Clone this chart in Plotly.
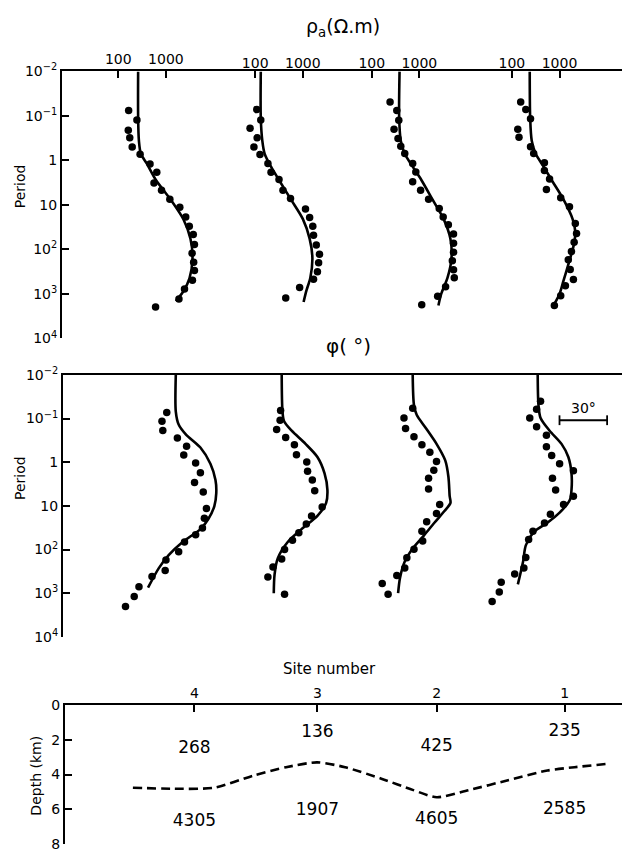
import plotly.graph_objects as go

# ---------------- DATA ----------------
# Sites are plotted left to right in the order 4, 3, 2, 1
site_labels = ["4", "3", "2", "1"]
site_dist_km = [0.0, 10.0, 19.7, 30.1]

# Apparent resistivity: observed (period s, rho ohm.m)
rho_obs_T_s4 = [0.076, 0.124, 0.21, 0.31, 0.50, 0.73, 1.2, 1.84, 3.2, 4.7, 7.5, 11.2, 18.6, 30, 46, 77, 121, 195, 297, 490, 775, 1290, 1960]
rho_obs_s4 = [165, 246, 162, 174, 196, 287, 464, 643, 562, 810, 1210, 1960, 2610, 3100, 3760, 3980, 3550, 3830, 3980, 3610, 2460, 1880, 607]
rho_obs_T_s3 = [0.072, 0.124, 0.19, 0.31, 0.50, 0.74, 1.17, 1.84, 2.7, 4.7, 7.2, 12.4, 19.2, 30, 48, 79, 128, 200, 316, 468, 713, 1225]
rho_obs_s3 = [108, 131, 78, 110, 94, 126, 185, 215, 316, 383, 552, 1140, 1390, 1620, 1680, 1920, 2240, 2150, 2030, 1680, 858, 438]
rho_obs_T_s2 = [0.049, 0.076, 0.126, 0.20, 0.32, 0.48, 0.70, 1.17, 1.81, 3.0, 4.7, 7.5, 12, 18.6, 28, 45, 73, 115, 179, 286, 430, 690, 1120, 1740]
rho_obs_s2 = [242, 335, 369, 293, 355, 406, 492, 722, 841, 722, 1060, 1560, 2610, 3160, 4060, 5210, 5210, 5210, 4920, 5210, 5410, 3550, 2420, 1120]
rho_obs_T_s1 = [0.049, 0.072, 0.116, 0.20, 0.30, 0.49, 0.70, 1.13, 1.69, 2.6, 4.5, 6.9, 11, 26, 44, 69, 111, 170, 282, 475, 656, 1100, 1810]
rho_obs_s1 = [153, 196, 246, 133, 141, 246, 287, 482, 482, 619, 531, 1060, 1620, 2150, 2280, 2030, 1780, 1530, 1680, 1960, 1330, 1060, 780]

# Apparent resistivity: model response
rho_mod_T_s4 = [0.01, 0.11, 0.36, 0.71, 1.18, 2.75, 7.6, 21, 58, 160, 440, 870, 1450]
rho_mod_s4 = [261, 261, 271, 298, 398, 617, 1259, 2330, 3290, 3620, 3140, 2330, 1620]
rho_mod_T_s3 = [0.01, 0.11, 0.36, 0.71, 1.38, 2.75, 7.5, 20.6, 57, 156, 430, 845, 1510]
rho_mod_s3 = [131, 131, 141, 158, 215, 316, 562, 1000, 1390, 1590, 1440, 1190, 1040]
rho_mod_T_s2 = [0.01, 0.11, 0.36, 0.71, 1.38, 2.75, 7.5, 20.6, 57, 156, 430, 1000, 1810]
rho_mod_s2 = [383, 376, 406, 492, 722, 1100, 1880, 3220, 4470, 4730, 3900, 2870, 2510]
rho_mod_T_s1 = [0.01, 0.11, 0.36, 0.71, 1.38, 2.75, 7.5, 20.6, 41, 79, 219, 510, 1000, 1810]
rho_mod_s1 = [237, 242, 261, 316, 464, 681, 1210, 1880, 2150, 1995, 1530, 1210, 1000, 750]

# Phase: observed (period s, degrees)
phi_obs_T_s4 = [0.073, 0.115, 0.187, 0.28, 0.43, 0.68, 1.04, 1.75, 2.9, 4.8, 11.4, 19.1, 32, 46, 67, 112, 173, 300, 416, 710, 1190, 2020]
phi_obs_s4 = [39.3, 36.3, 36.8, 46.0, 51.8, 50.0, 57.5, 60.5, 56.8, 62.3, 64.3, 63.0, 61.8, 57.5, 50.5, 46.8, 38.8, 38.3, 30.0, 21.8, 18.8, 13.3]
phi_obs_T_s3 = [0.065, 0.109, 0.177, 0.27, 0.40, 0.67, 0.99, 1.6, 2.55, 4.5, 10.6, 17, 26, 41, 61, 100, 164, 252, 423, 1050]
phi_obs_s3 = [44.3, 44.0, 41.8, 47.5, 53.0, 54.3, 60.8, 61.3, 64.3, 65.8, 70.5, 63.8, 60.5, 55.8, 51.8, 46.8, 45.0, 39.5, 36.3, 46.8]
phi_obs_T_s2 = [0.058, 0.097, 0.168, 0.26, 0.40, 0.59, 0.96, 1.52, 2.34, 4.1, 9.3, 15, 23, 38, 64, 98, 153, 266, 395, 597, 1050]
phi_obs_s2 = [45.0, 39.5, 40.5, 45.8, 50.8, 55.8, 60.0, 58.3, 55.0, 55.0, 62.0, 60.0, 53.8, 50.8, 51.3, 45.8, 41.3, 40.0, 35.0, 25.8, 29.5]
phi_obs_T_s1 = [0.040, 0.061, 0.097, 0.154, 0.24, 0.44, 0.70, 1.08, 1.57, 2.34, 4.3, 6.0, 9.3, 15.5, 24.7, 38, 59, 151, 266, 362, 557, 933, 1540]
phi_obs_s1 = [46.8, 44.3, 40.0, 44.3, 50.5, 50.5, 53.8, 58.8, 67.5, 54.3, 56.3, 67.5, 61.3, 53.0, 49.3, 42.0, 39.3, 37.5, 36.3, 30.5, 22.0, 20.8, 16.3]

# Phase: model response
phi_mod_T_s4 = [0.01, 0.069, 0.137, 0.23, 0.46, 1.08, 2.55, 5.1, 10.1, 20, 34, 67, 134, 266, 747]
phi_mod_s4 = [45, 45, 46.8, 51.3, 60.5, 66.8, 70, 70.5, 69.3, 65.5, 60.5, 49.3, 40.5, 34.3, 27.5]
phi_mod_T_s3 = [0.01, 0.069, 0.115, 0.19, 0.38, 0.76, 1.8, 4.3, 8.5, 17, 34, 67, 159, 375, 1000]
phi_mod_s3 = [45, 45.5, 46.5, 51.3, 60, 67.5, 72, 73.8, 73, 67.5, 57.5, 48.8, 42.5, 40.5, 40]
phi_mod_T_s2 = [0.01, 0.049, 0.082, 0.16, 0.38, 0.91, 2.15, 6.0, 8.5, 13.1, 24, 48, 95, 188, 446, 1000]
phi_mod_s2 = [45, 45.8, 47.5, 53, 60, 65.5, 67.5, 68.3, 68.8, 65, 58.8, 52, 45, 40, 37, 35.8]
phi_mod_T_s1 = [0.01, 0.049, 0.097, 0.19, 0.38, 0.76, 1.8, 4.3, 7.2, 14.3, 24, 40, 80, 188, 628]
phi_mod_s1 = [45, 45.5, 46.8, 52.5, 60, 64.3, 66.3, 66.3, 65.3, 58.8, 51.3, 42.5, 37.5, 35.8, 32.5]

# Two-layer model section
upper_rho = [268, 136, 425, 235]
lower_rho = [4305, 1907, 4605, 2585]
iface_dist_km = [-5.0, -1.9, 1.6, 4.85, 7.45, 9.97, 12.25, 15.2, 17.8, 19.7, 22.3, 25.5, 28.7, 30.9, 33.5]
iface_depth_km = [4.76, 4.82, 4.76, 4.05, 3.58, 3.30, 3.58, 4.24, 4.9, 5.31, 4.9, 4.33, 3.77, 3.58, 3.39]

period_ticks = [0.01, 0.1, 1, 10, 100, 1000, 10000]
period_ticktext = ["10<sup>−2</sup>", "10<sup>−1</sup>", "1", "10", "10<sup>2</sup>", "10<sup>3</sup>", "10<sup>4</sup>"]
rho_ticks = [100, 1000]
depth_ticks = [0, 2, 4, 6, 8]

# label depths for layer resistivities (layout)
label_depth_upper = [2.5, 1.6, 2.4, 1.55]
label_depth_lower = [6.7, 6.1, 6.6, 6.05]

# ---------------- LAYOUT GEOMETRY (pixels) ----------------
W, H = 622, 860
def fx(p):
    return p / W
def fy(p):
    return 1 - p / H

P1_TOP, P1_BOT = 62.7, 335.5
P2_TOP, P2_BOT = 372.7, 640.3
P3_TOP, P3_BOT = 710.0, 851.7
X1_LEFT, X2_LEFT, X3_LEFT = 62.0, 63.0, 65.0

rho_anchor_px = [118.3, 255.2, 371.8, 511.9]   # pixel of 100 ohm.m in each sub-panel
RHO_PX_PER_DEC = 47.6
phi_anchor_px = [175.8, 281.7, 412.7, 537.7]   # pixel of 45 deg in each sub-panel
PHI_PX_PER_DEG = 1.587
SITE_PX4, KM_PX = 194.4, 12.3

FONT = "DejaVu Sans"
INK = "black"

rho_obs_T = [rho_obs_T_s4, rho_obs_T_s3, rho_obs_T_s2, rho_obs_T_s1]
rho_obs = [rho_obs_s4, rho_obs_s3, rho_obs_s2, rho_obs_s1]
rho_mod_T = [rho_mod_T_s4, rho_mod_T_s3, rho_mod_T_s2, rho_mod_T_s1]
rho_mod = [rho_mod_s4, rho_mod_s3, rho_mod_s2, rho_mod_s1]
phi_obs_T = [phi_obs_T_s4, phi_obs_T_s3, phi_obs_T_s2, phi_obs_T_s1]
phi_obs = [phi_obs_s4, phi_obs_s3, phi_obs_s2, phi_obs_s1]
phi_mod_T = [phi_mod_T_s4, phi_mod_T_s3, phi_mod_T_s2, phi_mod_T_s1]
phi_mod = [phi_mod_s4, phi_mod_s3, phi_mod_s2, phi_mod_s1]

fig = go.Figure()
layout = {}

for k in range(4):
    xr = "x" if k == 0 else f"x{k + 1}"
    xp = f"x{k + 5}"
    fig.add_trace(go.Scatter(x=rho_mod[k], y=rho_mod_T[k], xaxis=xr, yaxis="y", mode="lines",
                             line=dict(color=INK, width=2.6, shape="spline", smoothing=0.8),
                             hoverinfo="skip"))
    fig.add_trace(go.Scatter(x=rho_obs[k], y=rho_obs_T[k], xaxis=xr, yaxis="y", mode="markers",
                             marker=dict(color=INK, size=7.5), hoverinfo="skip"))
    fig.add_trace(go.Scatter(x=phi_mod[k], y=phi_mod_T[k], xaxis=xp, yaxis="y2", mode="lines",
                             line=dict(color=INK, width=2.6, shape="spline", smoothing=0.8),
                             hoverinfo="skip"))
    fig.add_trace(go.Scatter(x=phi_obs[k], y=phi_obs_T[k], xaxis=xp, yaxis="y2", mode="markers",
                             marker=dict(color=INK, size=7.5), hoverinfo="skip"))

    a = rho_anchor_px[k]
    rax = dict(type="log", domain=[fx(X1_LEFT), 1], anchor="y", side="top",
               range=[2 - (a - X1_LEFT) / RHO_PX_PER_DEC, 2 + (W - a) / RHO_PX_PER_DEC],
               tickvals=rho_ticks, ticktext=[str(v) for v in rho_ticks],
               ticks="inside", ticklen=7, tickwidth=1.5, tickcolor=INK,
               tickfont=dict(family=FONT, size=14, color=INK),
               showgrid=False, zeroline=False,
               showline=(k == 0), linecolor=INK, linewidth=2)
    if k > 0:
        rax["overlaying"] = "x"
    layout["xaxis" if k == 0 else f"xaxis{k + 1}"] = rax

    b = phi_anchor_px[k]
    pax = dict(domain=[fx(X2_LEFT), 1], anchor="y2", side="top",
               range=[45 - (b - X2_LEFT) / PHI_PX_PER_DEG, 45 + (W - b) / PHI_PX_PER_DEG],
               showticklabels=False, ticks="", showgrid=False, zeroline=False,
               showline=(k == 0), linecolor=INK, linewidth=2)
    if k > 0:
        pax["overlaying"] = "x5"
    layout[f"xaxis{k + 5}"] = pax

# Section panel
fig.add_trace(go.Scatter(x=iface_dist_km, y=iface_depth_km, xaxis="x9", yaxis="y3", mode="lines",
                         line=dict(color=INK, width=2.6, dash="9px,5px", shape="spline", smoothing=0.7),
                         hoverinfo="skip"))
fig.add_trace(go.Scatter(x=site_dist_km, y=label_depth_upper, xaxis="x9", yaxis="y3", mode="text",
                         text=[str(v) for v in upper_rho],
                         textfont=dict(family=FONT, size=17, color=INK), hoverinfo="skip"))
fig.add_trace(go.Scatter(x=site_dist_km, y=label_depth_lower, xaxis="x9", yaxis="y3", mode="text",
                         text=[str(v) for v in lower_rho],
                         textfont=dict(family=FONT, size=17, color=INK), hoverinfo="skip"))

layout["xaxis9"] = dict(domain=[fx(X3_LEFT), 1], anchor="y3", side="top",
                        range=[-(SITE_PX4 - X3_LEFT) / KM_PX, (W - SITE_PX4) / KM_PX],
                        tickvals=site_dist_km, ticktext=site_labels,
                        ticks="inside", ticklen=7, tickwidth=1.5, tickcolor=INK,
                        tickfont=dict(family=FONT, size=14, color=INK),
                        showgrid=False, zeroline=False, showline=True, linecolor=INK, linewidth=2)

yax_common = dict(ticks="inside", ticklen=7, tickwidth=1.5, tickcolor=INK,
                  tickfont=dict(family=FONT, size=14, color=INK),
                  showgrid=False, zeroline=False, showline=True, linecolor=INK, linewidth=2)
layout["yaxis"] = dict(type="log", domain=[fy(P1_BOT), fy(P1_TOP)], anchor="x", range=[4, -2],
                       tickvals=period_ticks, ticktext=period_ticktext, **yax_common)
layout["yaxis2"] = dict(type="log", domain=[fy(P2_BOT), fy(P2_TOP)], anchor="x5", range=[4, -2],
                        tickvals=period_ticks, ticktext=period_ticktext, **yax_common)
layout["yaxis3"] = dict(domain=[fy(P3_BOT), fy(P3_TOP)], anchor="x9", range=[8, 0],
                        tickvals=depth_ticks, ticktext=[str(v) for v in depth_ticks], **yax_common)

# 30 degree scale bar, drawn in the phase units of the rightmost sub-panel
BAR_START_DEG = 45 + (559.5 - phi_anchor_px[3]) / PHI_PX_PER_DEG
BAR_Y = fy(419)
shapes = [
    dict(type="line", xref="x8", yref="paper", x0=BAR_START_DEG, x1=BAR_START_DEG + 30,
         y0=BAR_Y, y1=BAR_Y, line=dict(color=INK, width=1.8)),
    dict(type="line", xref="x8", yref="paper", x0=BAR_START_DEG, x1=BAR_START_DEG,
         y0=BAR_Y - 5 / H, y1=BAR_Y + 5 / H, line=dict(color=INK, width=1.8)),
    dict(type="line", xref="x8", yref="paper", x0=BAR_START_DEG + 30, x1=BAR_START_DEG + 30,
         y0=BAR_Y - 5 / H, y1=BAR_Y + 5 / H, line=dict(color=INK, width=1.8)),
]

def ann(text, x, y, size, angle=0):
    return dict(text=text, x=fx(x), y=fy(y), xref="paper", yref="paper", showarrow=False,
                xanchor="center", yanchor="middle", textangle=angle,
                font=dict(family=FONT, size=size, color=INK))

annotations = [
    ann("ρ<sub>a</sub>(Ω.m)", 343, 18, 19),
    ann("φ( °)", 349, 343, 20),
    ann("Period", 20, 180, 14, -90),
    ann("Period", 20, 478, 14, -90),
    ann("Depth (km)", 36, 782, 14, -90),
    ann("Site number", 329, 673, 15),
    ann("30°", 583, 407, 14),
]

fig.update_layout(
    width=W, height=H, margin=dict(l=0, r=0, t=0, b=0),
    paper_bgcolor="white", plot_bgcolor="rgba(0,0,0,0)",
    showlegend=False, shapes=shapes, annotations=annotations,
    font=dict(family=FONT, size=14, color=INK),
    **layout,
)

fig.write_html("out.html", config={"displayModeBar": False},
               post_script="document.body.style.margin='0px';document.body.style.overflow='hidden';")
